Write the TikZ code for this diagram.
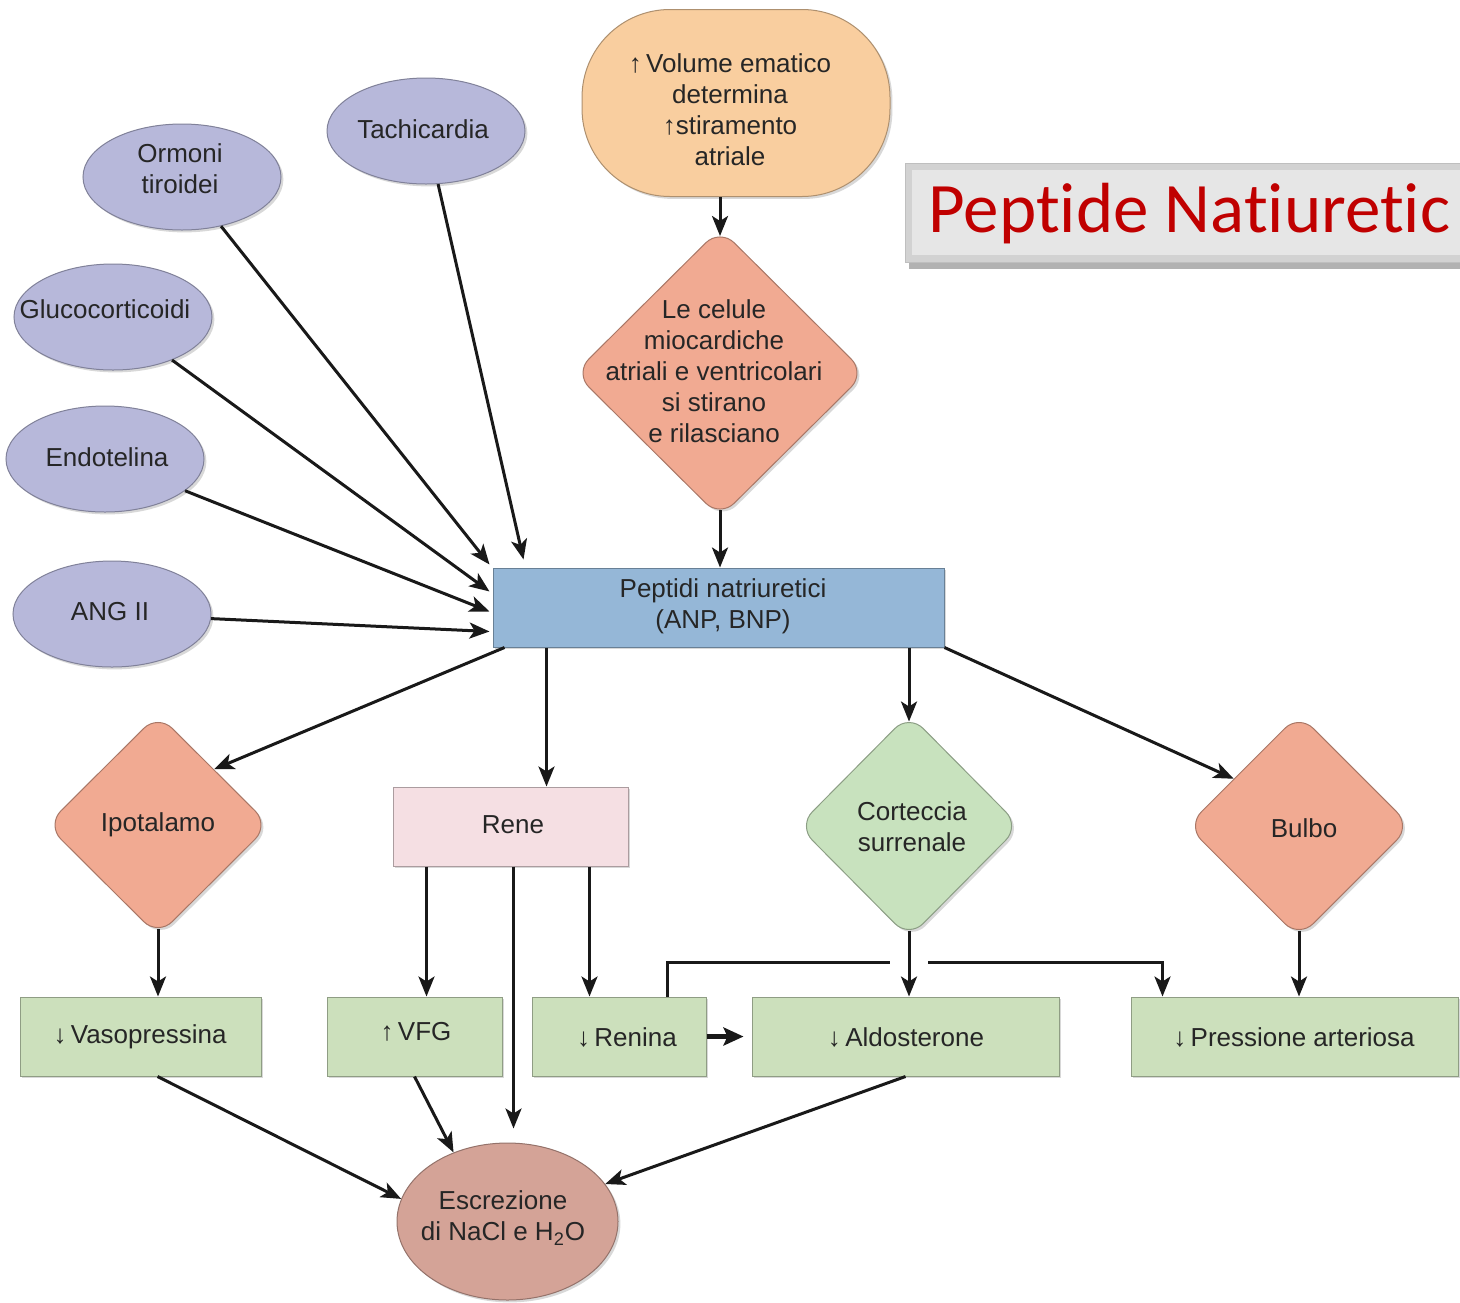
\documentclass[tikz,border=0pt]{standalone}
\usepackage{fontspec}
\setmainfont{Liberation Sans}
\newfontfamily\titlefont[Ligatures={NoCommon,NoRare,NoDiscretionary}]{Carlito}
\usetikzlibrary{arrows.meta,shapes.geometric,shadows,calc}
\definecolor{lav}{HTML}{B7B8DA}
\definecolor{peach}{HTML}{F9CE9F}
\definecolor{salm}{HTML}{F1AA92}
\definecolor{blu}{HTML}{95B7D7}
\definecolor{pinkc}{HTML}{F5DFE3}
\definecolor{grn}{HTML}{CCE0BC}
\definecolor{grn2}{HTML}{C8E2BE}
\definecolor{escrc}{HTML}{D4A397}
\definecolor{txtc}{HTML}{262626}
\definecolor{titred}{HTML}{C00000}
\definecolor{bevel}{HTML}{D2D2D2}
\definecolor{bevin}{HTML}{E6E6E6}
\begin{document}
\begin{tikzpicture}[x=0.5pt,y=-0.5pt,
  shad/.style={drop shadow={shadow xshift=1.2pt,shadow yshift=-1.2pt,opacity=0.3}},
  ell/.style={ellipse,fill=lav,draw=lav!70!black,line width=0.5pt,minimum width=99pt,minimum height=53pt,inner sep=0pt,shad},
  dia/.style={diamond,rounded corners=10pt,inner sep=0pt,line width=0.5pt,shad},
  box/.style={rectangle,inner sep=0pt,line width=0.5pt,shad},
  gbox/.style={box,fill=grn,draw=grn!70!black,minimum height=39.5pt},
  txt/.style={font=\fontsize{13}{15.5}\selectfont,text=txtc,align=center,inner sep=0pt},
  arr/.style={line width=1.5pt,draw=black!90,-{Stealth[length=10pt,width=8pt,inset=2.5pt]}},
  arrthick/.style={line width=2.4pt,draw=black!90,-{Stealth[length=10pt,width=9pt,inset=2pt]}},
  plain/.style={line width=1.5pt,draw=black!90}
]
\useasboundingbox (0,0) rectangle (1460,1302);
\clip (0,0) rectangle (1460,1302);
\fill[white] (0,0) rectangle (1460,1302);

% title box
\fill[black!30] (909,170) rectangle (1475,269);
\node[rectangle,fill=bevel,draw=black!25,line width=0.4pt,anchor=north west,minimum width=290pt,minimum height=49.5pt,inner sep=0pt] (title) at (905,163) {};
\fill[bevin] (912,170) rectangle (1475,255);
\node[anchor=base west,inner sep=0pt,font=\titlefont\fontsize{35.5}{40}\selectfont,text=titred] (titleT) at (928,232) {Peptide Natiuretic};

% top shapes
\node[box,rounded corners=44pt,fill=peach,draw=peach!70!black,minimum width=154pt,minimum height=93.5pt] (vol) at (736,103) {};
\node[txt] (volT) at (730,110) {↑\,Volume ematico\\determina\\↑stiramento\\atriale};

\node[dia,fill=salm,draw=salm!70!black,minimum width=145.5pt,minimum height=144.5pt] (cel) at (720,373) {};
\node[txt] (celT) at (714,371) {Le celule\\miocardiche\\atriali e ventricolari\\si stirano\\e rilasciano};

\node[box,fill=blu,draw=blu!70!black,minimum width=225.5pt,minimum height=39.5pt] (pep) at (718.5,607.5) {};
\node[txt] (pepT) at (723,606) {Peptidi natriuretici\\(ANP, BNP)};

% ellipses
\node[ell] (tach) at (426,131) {};
\node[txt] (tachT) at (423,129) {Tachicardia};
\node[ell] (orm) at (182,177) {};
\node[txt] (ormT) at (180,169) {Ormoni\\tiroidei};
\node[ell] (glu) at (113,317) {};
\node[txt] (gluT) at (105,309) {Glucocorticoidi};
\node[ell] (endo) at (105,459) {};
\node[txt] (endoT) at (107,457) {Endotelina};
\node[ell] (ang) at (112,614) {};
\node[txt] (angT) at (110,612) {ANG II};

% middle row
\node[dia,fill=salm,draw=salm!70!black,minimum width=111.5pt,minimum height=111pt] (ipot) at (158,825) {};
\node[txt] (ipotT) at (158,825) {Ipotalamo};
\node[box,fill=pinkc,draw=pinkc!70!black,minimum width=117.5pt,minimum height=39.5pt] (rene) at (510.5,826.5) {};
\node[txt] (reneT) at (513,825) {Rene};
\node[dia,fill=grn2,draw=grn2!70!black,minimum width=111pt,minimum height=112pt] (cort) at (909,826) {};
\node[txt] (cortT) at (912,827) {Corteccia\\surrenale};
\node[dia,fill=salm,draw=salm!70!black,minimum width=112pt,minimum height=112pt] (bulbo) at (1299,826) {};
\node[txt] (bulboT) at (1304,828) {Bulbo};

% green boxes
\node[gbox,minimum width=120.5pt] (vaso) at (140.5,1036.5) {};
\node[txt] (vasoT) at (140,1037) {↓\,Vasopressina};
\node[gbox,minimum width=87.5pt] (vfg) at (414.5,1036.5) {};
\node[txt] (vfgT) at (416,1032) {↑\,VFG};
\node[gbox,minimum width=87pt] (ren) at (619,1036.5) {};
\node[txt] (renT) at (627,1037) {↓\,Renina};
\node[gbox,minimum width=153.5pt] (aldo) at (905.5,1036.5) {};
\node[txt] (aldoT) at (906,1037) {↓\,Aldosterone};
\node[gbox,minimum width=163.5pt] (press) at (1294.5,1036.5) {};
\node[txt] (pressT) at (1294,1037) {↓\,Pressione arteriosa};

\node[ellipse,fill=escrc,draw=escrc!70!black,line width=0.5pt,minimum width=110.5pt,minimum height=78.5pt,inner sep=0pt,shad] (escr) at (507.5,1221.5) {};
\node[txt] (escrT) at (503,1218) {Escrezione\\di NaCl e H\textsubscript{2}O};

% connectors top
\draw[arr,shorten >=-4pt] (cel.north |- vol.south) -- (cel.north);
\draw[arr,shorten <=-4pt] (cel.south) -- (cel.south |- pep.north);
\draw[arr] (tach) -- ([shift={(31,-8)}]pep.north west);
\draw[arr] (orm) -- ([shift={(-3,-3)}]pep.north west);
\draw[arr] (glu) -- ([shift={(-3,24)}]pep.north west);
\draw[arr] (endo) -- ([shift={(-3,44)}]pep.north west);
\draw[arr] (ang) -- ([shift={(-3,64)}]pep.north west);

% from peptidi
\draw[arr] ([shift={(12,0)}]pep.south west) -- (ipot.north east);
\draw[arr] ([shift={(54,0)}]pep.south west) coordinate (p1) -- (p1 |- rene.north);
\draw[arr,shorten >=-4pt] (cort.north |- pep.south) -- (cort.north);
\draw[arr] (pep.south east) -- ([shift={(-9,9)}]bulbo.north west);

% lower
\draw[arr,shorten <=-4pt] (ipot.south) -- (ipot.south |- vaso.north);
\draw[arr] ([shift={(34,0)}]rene.south west) coordinate (r1) -- (r1 |- vfg.north);
\draw[arr,shorten >=7pt] ([shift={(121,0)}]rene.south west) coordinate (r2) -- (r2 |- escr.north);
\draw[arr] ([shift={(197,0)}]rene.south west) coordinate (r3) -- (r3 |- ren.north);
\draw[arrthick,shorten >=4pt] (ren.east) -- (aldo.west);
\draw[arr,shorten <=-4pt] (cort.south) -- (cort.south |- aldo.north);
\coordinate (j1) at (890,962);
\coordinate (j2) at (928,962);
\draw[plain] ([shift={(136,0)}]ren.north west) |- (j1);
\draw[arr] (j2) -| ([shift={(32,0)}]press.north west);
\draw[arr,shorten <=-4pt] (bulbo.south) -- (bulbo.south |- press.north);
\draw[arr] ([shift={(17,0)}]vaso.south) -- (escr.168);
\draw[arr] (vfg.south) -- (escr.128);
\draw[arr] (aldo.south) -- (escr.21);
\end{tikzpicture}
\end{document}
